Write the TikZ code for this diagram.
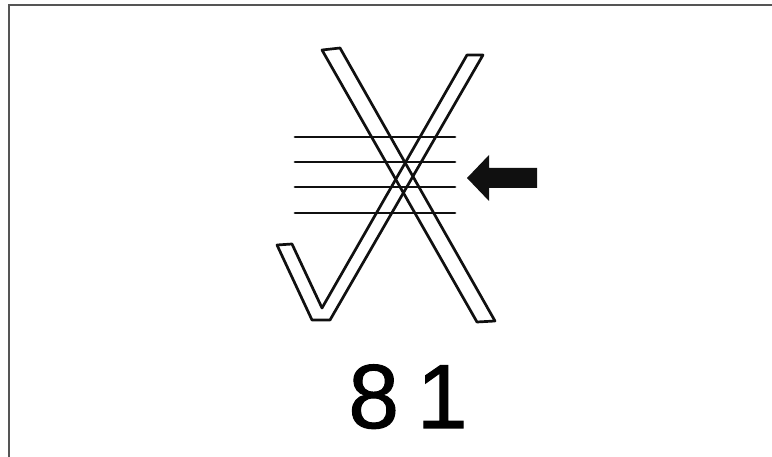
\documentclass[tikz,border=0pt]{standalone}
\usepackage{fontspec}
\setmainfont{Liberation Sans}
\newfontfamily\numfont[FakeBold=1.1]{Liberation Sans}
\usetikzlibrary{positioning}
\definecolor{inkblack}{HTML}{101010}
\definecolor{framegray}{HTML}{555555}
\tikzset{
  bandline/.style={draw=inkblack, line width=2.7pt, line join=round},
  staffline/.style={draw=inkblack, line width=2.8pt, line cap=round},
  pointer/.style={fill=inkblack},
}

\begin{document}
\begin{tikzpicture}[x=1pt, y=-1pt]
\useasboundingbox (0,0) rectangle (772,457);
% frame
\draw[framegray, line width=1.3pt] (9,457) -- (9,5) -- (772,5);
% staff lines
\foreach \yy in {137,162,187,213}
  \draw[staffline] (295,\yy) -- (455,\yy);
% cross stroke
\draw[bandline] (322,50) -- (340,48) -- (495,321) -- (477,322) -- cycle;
% tick stroke
\draw[bandline] (277,245) -- (292,244) -- (322,308) -- (467,55) -- (483,55)
  -- (330,320) -- (312,320) -- cycle;
% arrow
\fill[pointer] (467,178) -- (489,155) -- (489,168) -- (537,168) -- (537,188)
  -- (489,188) -- (489,201) -- cycle;
% number
\node[anchor=base, inner sep=0pt] (num) at (408,428) {\numfont\fontsize{91}{91}\selectfont 8\kern18pt 1};
\end{tikzpicture}
\end{document}
